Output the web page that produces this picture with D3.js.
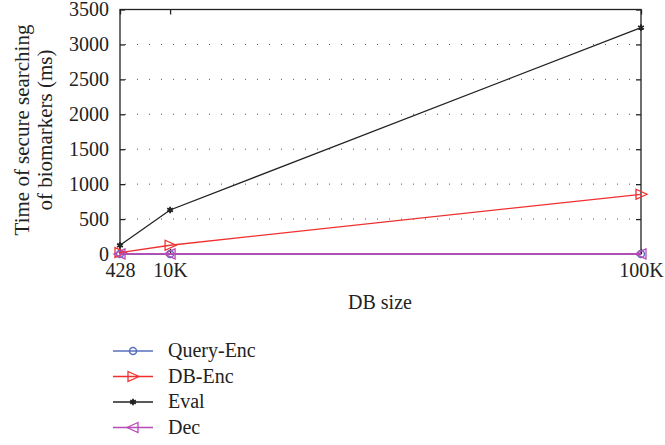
<!DOCTYPE html>
<html><head><meta charset="utf-8">
<script src="https://cdn.jsdelivr.net/npm/d3@7"></script>
<style>body{margin:0;background:#fff}svg{display:block}text{font-family:"Liberation Serif","DejaVu Serif",serif;fill:#222}</style>
</head><body><svg id="c" width="665" height="445"></svg>
<script>
const xValues = [428, 10000, 100000];
const xTickLabels = ["428", "10K", "100K"];
const yTicks = [0, 500, 1000, 1500, 2000, 2500, 3000, 3500];
const seriesNames = ["Query-Enc", "DB-Enc", "Eval", "Dec"];
const queryEnc = [1, 1, 1];
const dbEnc = [20, 125, 855];
const evalVals = [125, 630, 3240];
const dec = [1, 1, 1];
const colors = ["#5a6fc0", "#f03030", "#222222", "#b84cb8"];
const markers = ["circle", "triR", "star", "triL"];

const FS = 20;
const svg = d3.select("#c");
const L = 120, R = 641, T = 9.5, B = 254;
const x = d3.scaleLinear().domain([428, 100000]).range([L, R]);
const y = d3.scaleLinear().domain([0, 3500]).range([B, T]);

// grid
svg.append("g").selectAll("line").data(yTicks.filter(d => d > 0 && d < 3500)).join("line")
  .attr("x1", L + 5).attr("x2", R - 5).attr("y1", d => y(d)).attr("y2", d => y(d))
  .attr("stroke", "#555").attr("stroke-width", 1).attr("stroke-dasharray", "1,11")
  .attr("stroke-dashoffset", -12);

// axes
const ax = svg.append("g");
ax.append("g").attr("transform", `translate(${L},0)`)
  .call(d3.axisLeft(y).tickValues(yTicks).tickSize(-5).tickPadding(11).tickFormat(d3.format("d")))
  .call(g => g.select(".domain").remove());
ax.append("g").attr("transform", `translate(${R},0)`)
  .call(d3.axisRight(y).tickValues(yTicks).tickSize(-5).tickFormat(""))
  .call(g => g.select(".domain").remove());
ax.append("g").attr("transform", `translate(0,${B})`)
  .call(d3.axisBottom(x).tickValues(xValues).tickSize(-5).tickPadding(9).tickFormat((d, i) => xTickLabels[i]))
  .call(g => g.select(".domain").remove());
ax.append("g").attr("transform", `translate(0,${T})`)
  .call(d3.axisTop(x).tickValues(xValues).tickSize(-5).tickFormat(""))
  .call(g => g.select(".domain").remove());
ax.selectAll("g").attr("font-size", null).attr("font-family", null);
ax.selectAll(".tick line").attr("stroke", "#222").attr("stroke-width", 1.3);
ax.selectAll("text").attr("font-size", FS).attr("fill", "#222");
svg.append("rect").attr("x", L).attr("y", T).attr("width", R - L).attr("height", B - T)
  .attr("fill", "none").attr("stroke", "#222").attr("stroke-width", 1.3);

// labels
svg.append("text").attr("x", 380).attr("y", 309).attr("text-anchor", "middle").attr("font-size", FS).text("DB size");
const yl = svg.append("text").attr("transform", "translate(29,130) rotate(-90)").attr("text-anchor", "middle").attr("font-size", FS + 1);
yl.append("tspan").attr("x", 0).attr("dy", 0).text("Time of secure searching");
yl.append("tspan").attr("x", 0).attr("dy", 23).text("of biomarkers (ms)");

function drawMarker(g, type, color, cx, cy) {
  if (type === "circle") {
    g.append("circle").attr("cx", cx).attr("cy", cy).attr("r", 3.5).attr("fill", "none").attr("stroke", color).attr("stroke-width", 1.5);
  } else if (type === "triR") {
    g.append("path").attr("d", `M${cx-5},${cy-5}L${cx+6},${cy}L${cx-5},${cy+5}Z`).attr("fill", "none").attr("stroke", color).attr("stroke-width", 1.3);
  } else if (type === "triL") {
    g.append("path").attr("d", `M${cx+5},${cy-5}L${cx-6},${cy}L${cx+5},${cy+5}Z`).attr("fill", "none").attr("stroke", color).attr("stroke-width", 1.3);
  } else {
    g.append("path").attr("d", d3.symbol(d3.symbolAsterisk, 30)()).attr("transform", `translate(${cx},${cy})`)
      .attr("fill", "none").attr("stroke", color).attr("stroke-width", 1.8);
  }
}

const data = [queryEnc, dbEnc, evalVals, dec];
const line = d3.line().x((d, i) => x(xValues[i])).y(d => y(d));
data.forEach((vals, s) => {
  const g = svg.append("g");
  g.append("path").datum(vals).attr("d", line).attr("fill", "none").attr("stroke", colors[s]).attr("stroke-width", s === 3 ? 1.8 : 1.3);
  vals.forEach((v, i) => drawMarker(g, markers[s], colors[s], x(xValues[i]), y(v)));
});

// legend
const lg = svg.append("g");
seriesNames.forEach((n, i) => {
  const yy = 351 + i * 25.5;
  lg.append("line").attr("x1", 113).attr("x2", 153).attr("y1", yy).attr("y2", yy).attr("stroke", colors[i]).attr("stroke-width", 1.5);
  drawMarker(lg, markers[i], colors[i], 133, yy);
  lg.append("text").attr("x", 168).attr("y", yy + 6).attr("font-size", FS).text(n);
});
</script></body></html>
